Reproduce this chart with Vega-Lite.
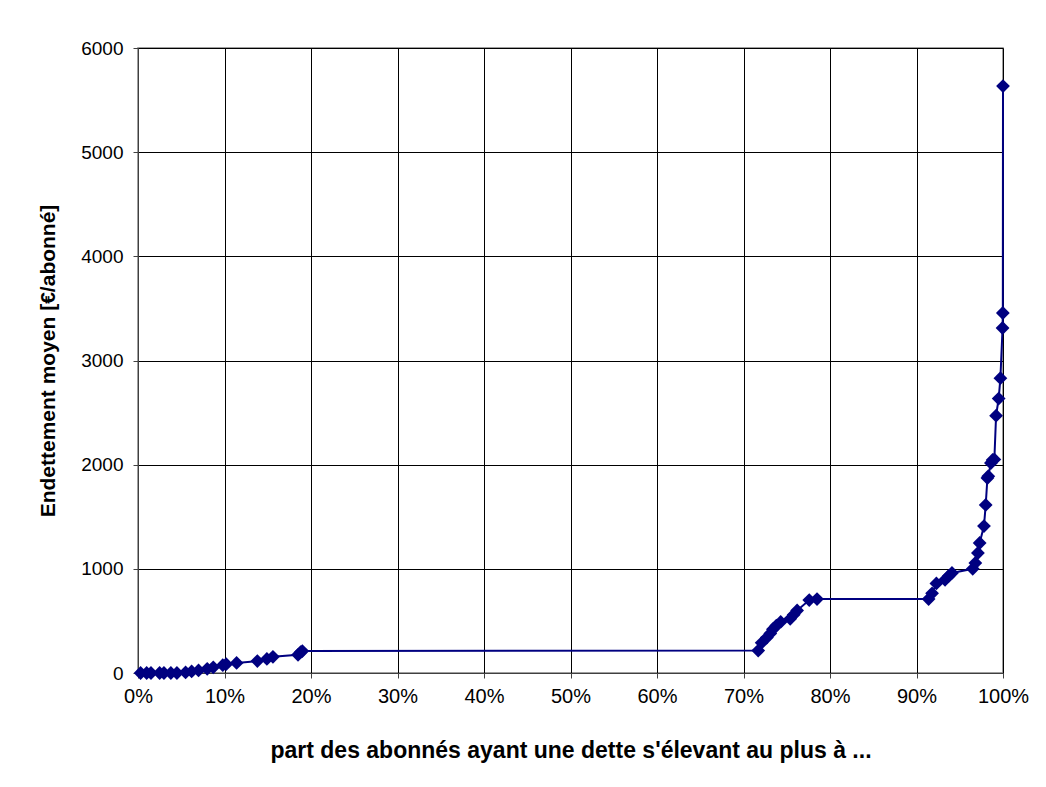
{
  "$schema": "https://vega.github.io/schema/vega-lite/v6.json",
  "width": 865,
  "height": 625,
  "autosize": {"type": "none"},
  "padding": {"left": 138, "top": 48, "right": 43, "bottom": 114},
  "background": "white",
  "config": {
    "view": {"stroke": "#808080", "strokeWidth": 1.5},
    "font": "Liberation Sans"
  },
  "data": {
    "values": [
      {"part": 0.003, "dette": 0},
      {"part": 0.010, "dette": 0},
      {"part": 0.015, "dette": 0},
      {"part": 0.025, "dette": 0},
      {"part": 0.030, "dette": 0},
      {"part": 0.038, "dette": 0},
      {"part": 0.045, "dette": 0},
      {"part": 0.055, "dette": 5},
      {"part": 0.062, "dette": 15},
      {"part": 0.070, "dette": 25},
      {"part": 0.080, "dette": 40},
      {"part": 0.087, "dette": 55},
      {"part": 0.098, "dette": 75},
      {"part": 0.102, "dette": 85},
      {"part": 0.114, "dette": 97},
      {"part": 0.138, "dette": 115},
      {"part": 0.149, "dette": 135},
      {"part": 0.156, "dette": 155},
      {"part": 0.185, "dette": 175},
      {"part": 0.188, "dette": 200},
      {"part": 0.190, "dette": 211},
      {"part": 0.717, "dette": 215},
      {"part": 0.721, "dette": 290},
      {"part": 0.727, "dette": 340},
      {"part": 0.731, "dette": 380},
      {"part": 0.734, "dette": 420},
      {"part": 0.738, "dette": 455},
      {"part": 0.743, "dette": 490},
      {"part": 0.754, "dette": 520},
      {"part": 0.758, "dette": 560},
      {"part": 0.762, "dette": 600},
      {"part": 0.776, "dette": 700},
      {"part": 0.785, "dette": 710},
      {"part": 0.914, "dette": 710},
      {"part": 0.918, "dette": 765},
      {"part": 0.923, "dette": 860},
      {"part": 0.933, "dette": 895},
      {"part": 0.937, "dette": 930},
      {"part": 0.941, "dette": 960},
      {"part": 0.965, "dette": 1000},
      {"part": 0.968, "dette": 1056},
      {"part": 0.971, "dette": 1152},
      {"part": 0.973, "dette": 1248},
      {"part": 0.978, "dette": 1411},
      {"part": 0.980, "dette": 1613},
      {"part": 0.982, "dette": 1872},
      {"part": 0.983, "dette": 1890},
      {"part": 0.986, "dette": 2016},
      {"part": 0.988, "dette": 2045},
      {"part": 0.990, "dette": 2050},
      {"part": 0.992, "dette": 2470},
      {"part": 0.995, "dette": 2635},
      {"part": 0.997, "dette": 2830},
      {"part": 0.9995, "dette": 3312},
      {"part": 0.9998, "dette": 3456},
      {"part": 1.0, "dette": 5635}
    ]
  },
  "mark": {
    "type": "line",
    "color": "#000080",
    "strokeWidth": 2,
    "point": {"shape": "diamond", "size": 190, "color": "#000080", "filled": true, "opacity": 1}
  },
  "encoding": {
    "x": {
      "field": "part",
      "type": "quantitative",
      "scale": {"domain": [0, 1], "nice": false, "zero": false},
      "axis": {
        "values": [0, 0.1, 0.2, 0.3, 0.4, 0.5, 0.6, 0.7, 0.8, 0.9, 1.0],
        "format": ".0%",
        "title": "part des abonnés ayant une dette s'élevant au plus à ...",
        "titleFont": "Liberation Sans",
        "titleFontSize": 23,
        "titleFontWeight": "bold",
        "titleColor": "black",
        "titlePadding": 33,
        "labelFont": "Liberation Sans",
        "labelFontSize": 20,
        "labelColor": "black",
        "labelPadding": 8,
        "labelFlush": false,
        "tickColor": "#404040",
        "tickSize": 5,
        "domainColor": "#404040",
        "gridColor": "black",
        "gridWidth": 1,
        "gridOpacity": 1
      }
    },
    "y": {
      "field": "dette",
      "type": "quantitative",
      "scale": {"domain": [0, 6000], "nice": false},
      "axis": {
        "values": [0, 1000, 2000, 3000, 4000, 5000, 6000],
        "format": "d",
        "title": "Endettement moyen [€/abonné]",
        "titleFont": "Liberation Sans",
        "titleFontSize": 21,
        "titleFontWeight": "bold",
        "titleColor": "black",
        "titlePadding": 22,
        "labelFont": "Liberation Sans",
        "labelFontSize": 19,
        "labelColor": "black",
        "labelPadding": 10,
        "labelFlush": false,
        "tickColor": "#404040",
        "tickSize": 5,
        "domainColor": "#404040",
        "gridColor": "black",
        "gridWidth": 1,
        "gridOpacity": 1
      }
    }
  }
}
